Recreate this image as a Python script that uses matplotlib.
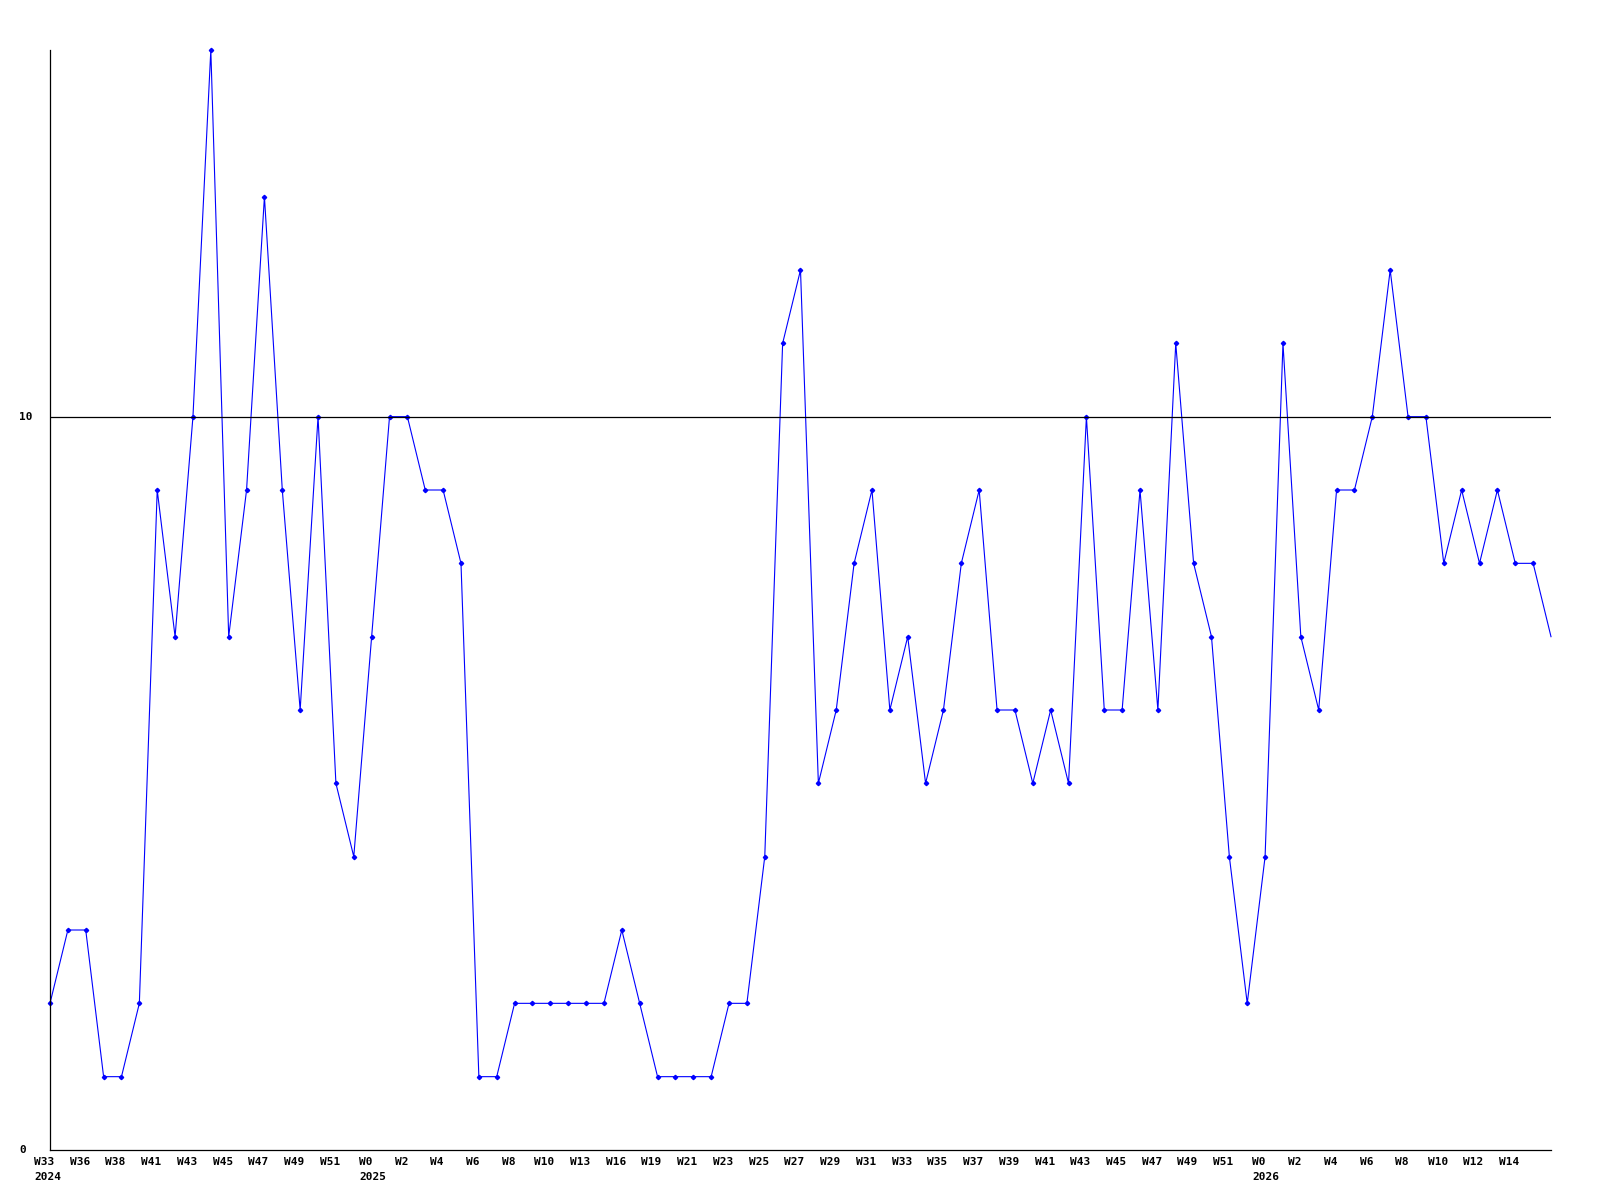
import numpy as np
import matplotlib
matplotlib.use("Agg")
import matplotlib.pyplot as plt
from matplotlib.transforms import offset_copy, blended_transform_factory

# weekly values, one per point (85 points)
values = [
    2, 3, 3, 1, 1, 2, 9, 7, 10, 15, 7, 9, 13, 9, 6, 10, 5, 4, 7, 10,
    10, 9, 9, 8, 1, 1, 2, 2, 2, 2, 2, 2, 3, 2, 1, 1, 1, 1, 2, 2,
    4, 11, 12, 5, 6, 8, 9, 6, 7, 5, 6, 8, 9, 6, 6, 5, 6, 5, 10, 6,
    6, 9, 6, 11, 8, 7, 4, 2, 4, 11, 7, 6, 9, 9, 10, 12, 10, 10, 8, 9,
    8, 9, 8, 8, 7,
]

# every second point gets a week label
week_labels = [
    "W33", "W36", "W38", "W41", "W43", "W45", "W47", "W49", "W51", "W0",
    "W2", "W4", "W6", "W8", "W10", "W13", "W16", "W19", "W21", "W23",
    "W25", "W27", "W29", "W31", "W33", "W35", "W37", "W39", "W41", "W43",
    "W45", "W47", "W49", "W51", "W0", "W2", "W4", "W6", "W8", "W10",
    "W12", "W14",
]
# year markers: (label index, year)
year_marks = [(0, "2024"), (9, "2025"), (34, "2026")]

y_ticks = [0, 10]

x = np.arange(len(values))
tick_pos = x[::2][:len(week_labels)]

fig = plt.figure(figsize=(16, 12), dpi=100)
ax = fig.add_axes([50 / 1600, 1 - 1150 / 1200, 1501 / 1600, 1100 / 1200])

font = dict(family="DejaVu Sans Mono", fontweight="bold", fontsize=8)

ax.plot(x, values, color="#0000ff", lw=0.8, marker="D", ms=2.2,
        markevery=slice(0, len(values) - 1), zorder=2, clip_on=False)
ax.axhline(10, color="black", lw=0.9, zorder=3)

ax.set_xlim(0, len(values) - 1)
ax.set_ylim(0, 15)

for side in ["top", "right"]:
    ax.spines[side].set_visible(False)
for side in ["left", "bottom"]:
    ax.spines[side].set_linewidth(0.9)
    ax.spines[side].set_color("black")

ax.set_xticks([])
ax.set_yticks([])

# y labels, left aligned near the figure edge
ytrans = blended_transform_factory(fig.transFigure, ax.transData)
for v in y_ticks:
    fig.text(19 / 1600, v, str(v), transform=ytrans, ha="left", va="center", **font)

# week labels and years below the axis
xtrans = blended_transform_factory(ax.transData, ax.transAxes)
wk_trans = offset_copy(xtrans, fig=fig, x=-6, y=-12, units="dots")
for pos, lab in zip(tick_pos, week_labels):
    ax.text(pos, 0, lab, transform=wk_trans, ha="center", va="center", **font)

for i, yr in year_marks:
    lab = week_labels[i]
    shift = -6 - 0.5 * 6.7 * len(lab)
    yr_trans = offset_copy(xtrans, fig=fig, x=shift, y=-27, units="dots")
    ax.text(tick_pos[i], 0, yr, transform=yr_trans, ha="left", va="center", **font)

fig.savefig("out.png", dpi=100, facecolor="white")
